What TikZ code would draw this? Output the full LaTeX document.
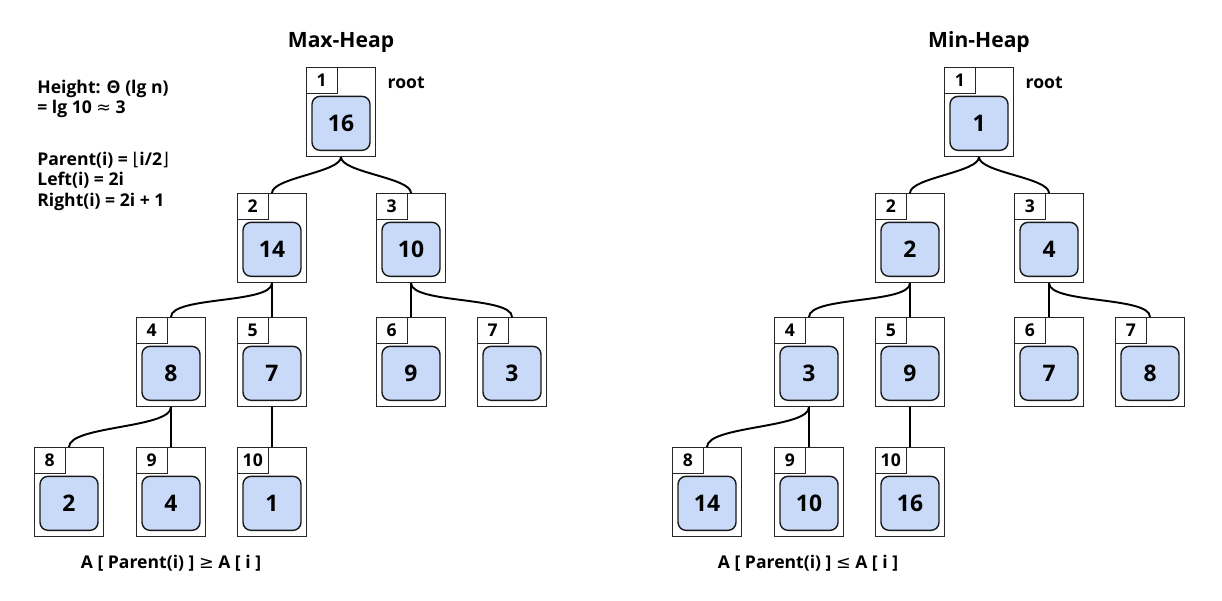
\documentclass[tikz,border=0pt]{standalone}
\usepackage{fontspec}
\setmainfont{Open Sans}
\newfontfamily\symfont{DejaVu Sans}
\usepackage{xcolor}
\definecolor{keyblue}{HTML}{C9DAF8}
\usetikzlibrary{positioning}
\tikzset{heapbox/.style={draw=black!85, line width=0.6pt, minimum width=1.39cm, minimum height=1.78cm, inner sep=0pt},
         idx/.style={anchor=north west, draw=black!85, line width=0.6pt, fill=white, minimum width=0.62cm, minimum height=0.52cm, inner sep=0pt, font=\fontsize{10}{12}\selectfont\bfseries},
         val/.style={anchor=south, yshift=0.12cm, draw=black!90, line width=0.8pt, fill=keyblue, rounded corners=0.16cm, minimum width=1.16cm, minimum height=1.08cm, inner sep=0pt, font=\fontsize{13}{15}\selectfont\bfseries},
         link/.style={line width=1.1pt, out=-90, in=90, looseness=0.5},
         note/.style={align=left, inner sep=0pt, font=\fontsize{10}{11.5}\selectfont\bfseries},
         heading/.style={inner sep=0pt, font=\fontsize{12}{14}\selectfont\bfseries}
        }

\begin{document}
\begin{tikzpicture}[x=0.02cm, y=-0.02cm]
    \useasboundingbox (0,0) rectangle (1222,600);

    \node[heading] (maxtitle) at (341,42) {Max-Heap};
    \node[heading] (mintitle) at (979,42) {Min-Heap};

    \node[note, anchor=north west] (heightnote) at (37,80) {Height: Θ (lg n)\\= lg 10 {\symfont\mdseries≈} 3};
    \node[note, anchor=north west] (indexnote) at (37,152) {Parent(i) = {\symfont\mdseries⌊}i/2{\symfont\mdseries⌋}\\Left(i) = 2i\\Right(i) = 2i + 1};

    \node[heapbox, label={[idx]north west:1}, label={[val]south:16}] (a1) at (341,112) {};
    \node[heapbox, label={[idx]north west:2}, label={[val]south:14}] (a2) at (272,238) {};
    \node[heapbox, label={[idx]north west:3}, label={[val]south:10}] (a3) at (411,238) {};
    \node[heapbox, label={[idx]north west:4}, label={[val]south:8}] (a4) at (171,362) {};
    \node[heapbox, label={[idx]north west:5}, label={[val]south:7}] (a5) at (272,362) {};
    \node[heapbox, label={[idx]north west:6}, label={[val]south:9}] (a6) at (411,362) {};
    \node[heapbox, label={[idx]north west:7}, label={[val]south:3}] (a7) at (512,362) {};
    \node[heapbox, label={[idx]north west:8}, label={[val]south:2}] (a8) at (69,492) {};
    \node[heapbox, label={[idx]north west:9}, label={[val]south:4}] (a9) at (171,492) {};
    \node[heapbox, label={[idx]north west:10}, label={[val]south:1}] (a10) at (272,492) {};

    \node[note, below right = 0.2cm and 0.22cm of a1.north east] (roota) {root};
    \node[note] (rulea) at (171,563) {A [ Parent(i) ] {\symfont\mdseries≥} A [ i ]};

    \draw[link] (a1.south) to (a2.north);
    \draw[link] (a1.south) to (a3.north);
    \draw[link] (a2.south) to (a4.north);
    \draw[link] (a2.south) to (a5.north);
    \draw[link] (a3.south) to (a6.north);
    \draw[link] (a3.south) to (a7.north);
    \draw[link] (a4.south) to (a8.north);
    \draw[link] (a4.south) to (a9.north);
    \draw[link] (a5.south) to (a10.north);

    \node[heapbox, label={[idx]north west:1}, label={[val]south:1}] (b1) at (979,112) {};
    \node[heapbox, label={[idx]north west:2}, label={[val]south:2}] (b2) at (910,238) {};
    \node[heapbox, label={[idx]north west:3}, label={[val]south:4}] (b3) at (1049,238) {};
    \node[heapbox, label={[idx]north west:4}, label={[val]south:3}] (b4) at (809,362) {};
    \node[heapbox, label={[idx]north west:5}, label={[val]south:9}] (b5) at (910,362) {};
    \node[heapbox, label={[idx]north west:6}, label={[val]south:7}] (b6) at (1049,362) {};
    \node[heapbox, label={[idx]north west:7}, label={[val]south:8}] (b7) at (1150,362) {};
    \node[heapbox, label={[idx]north west:8}, label={[val]south:14}] (b8) at (707,492) {};
    \node[heapbox, label={[idx]north west:9}, label={[val]south:10}] (b9) at (809,492) {};
    \node[heapbox, label={[idx]north west:10}, label={[val]south:16}] (b10) at (910,492) {};

    \node[note, below right = 0.2cm and 0.22cm of b1.north east] (rootb) {root};
    \node[note] (ruleb) at (808,563) {A [ Parent(i) ] {\symfont\mdseries≤} A [ i ]};

    \draw[link] (b1.south) to (b2.north);
    \draw[link] (b1.south) to (b3.north);
    \draw[link] (b2.south) to (b4.north);
    \draw[link] (b2.south) to (b5.north);
    \draw[link] (b3.south) to (b6.north);
    \draw[link] (b3.south) to (b7.north);
    \draw[link] (b4.south) to (b8.north);
    \draw[link] (b4.south) to (b9.north);
    \draw[link] (b5.south) to (b10.north);

\end{tikzpicture}
\end{document}
